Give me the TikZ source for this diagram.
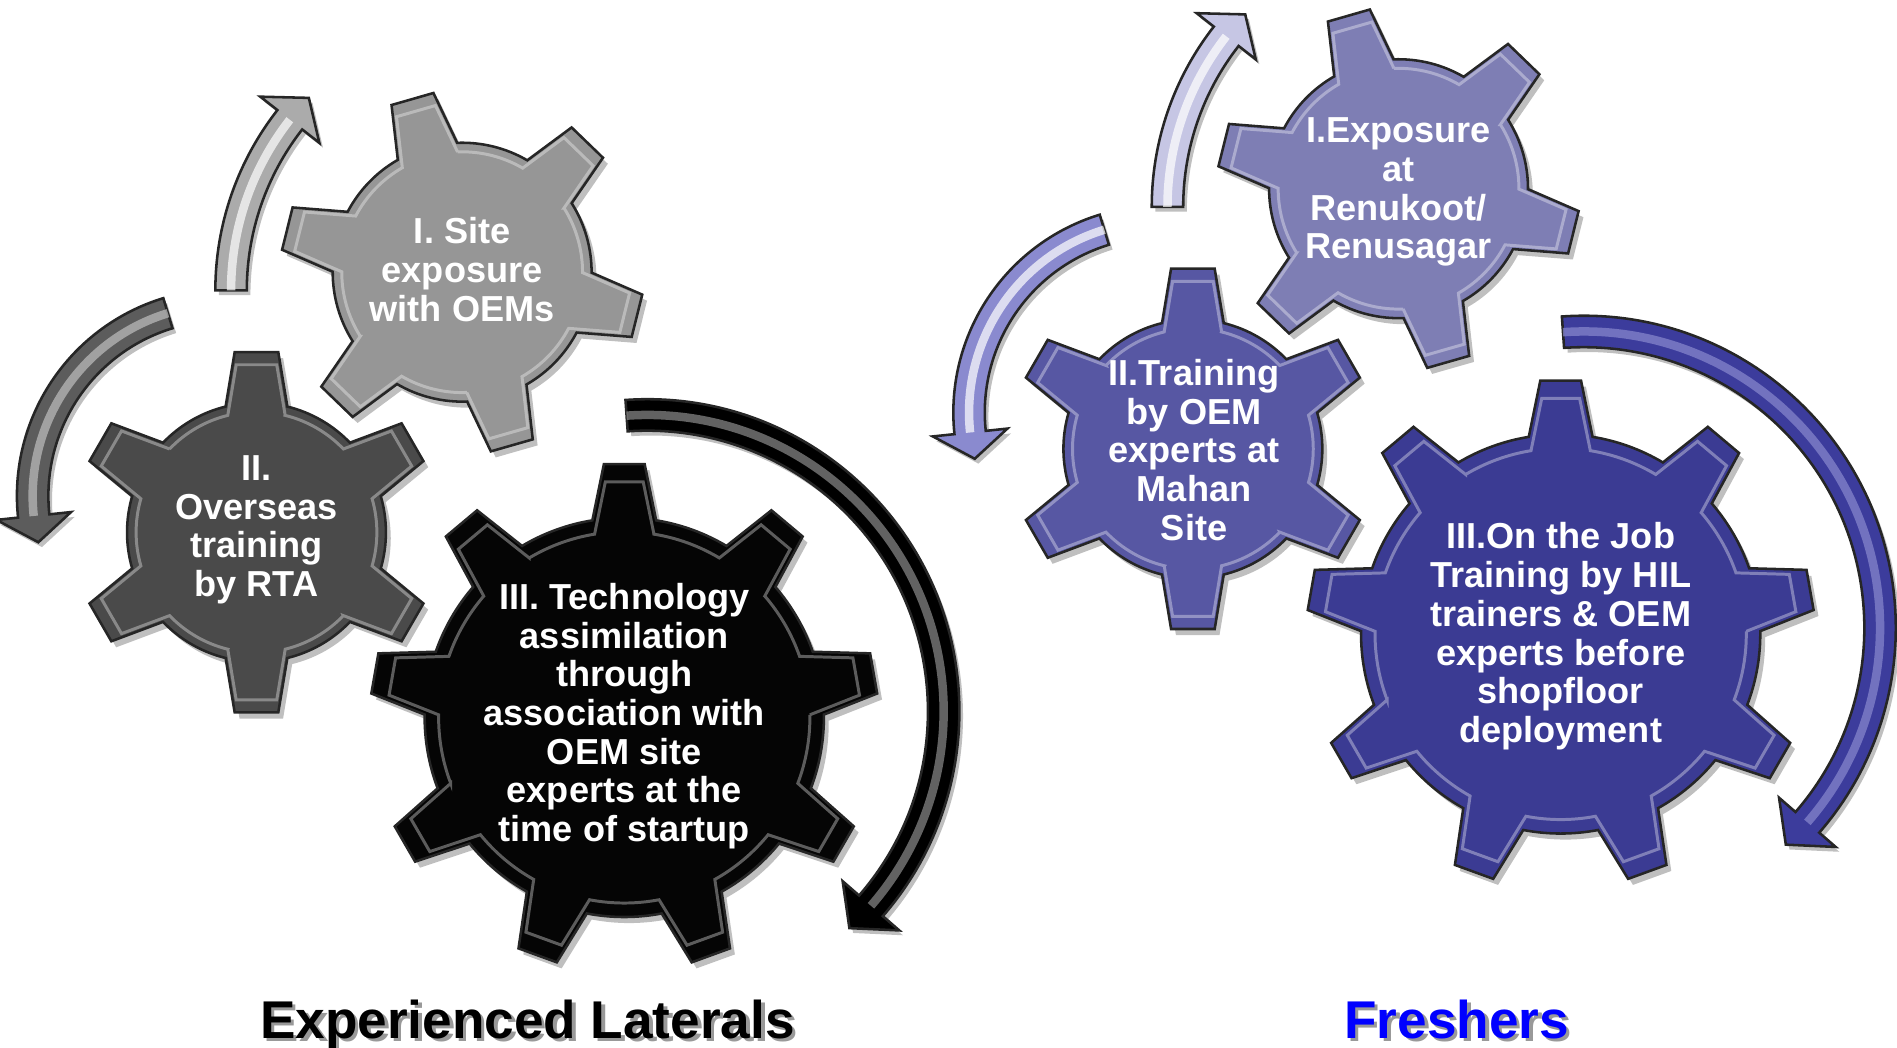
\documentclass[tikz,border=0pt]{standalone}
\usepackage{fontspec}
\setmainfont{Liberation Sans}

\definecolor{gearlight}{HTML}{969696}
\definecolor{geardark}{HTML}{4A4A4A}
\definecolor{gearblack}{HTML}{050505}
\definecolor{fresha}{HTML}{7E7EB4}
\definecolor{freshb}{HTML}{5757A3}
\definecolor{freshc}{HTML}{3B3B93}
\definecolor{arrowlight}{HTML}{ABABAB}
\definecolor{arrowdark}{HTML}{5C5C5C}
\definecolor{arrowfa}{HTML}{C6C6E4}
\definecolor{arrowfb}{HTML}{8A8ACF}
\definecolor{arrowfc}{HTML}{3C3C9C}

\tikzset{
  gearlabel/.style={text=white, font=\bfseries\fontsize{8.5}{9.1}\selectfont, align=center},
  grouplabel/.style={font=\bfseries\fontsize{12.5}{15}\selectfont, anchor=base},
}

% outline of a gear: teeth, rotation, body radius, tip radius
\newcommand{\gearpath}[4]{%
  (#2-0.46*180/#1:#3)
  \foreach \k [evaluate=\k as \a using #2+(\k-1)*360/#1] in {1,...,#1} {
    -- (\a-0.46*180/#1:#3) -- (\a-0.23*180/#1:#4) -- (\a+0.23*180/#1:#4) -- (\a+0.46*180/#1:#3)
    arc[start angle=\a+0.46*180/#1, end angle=\a+360/#1-0.46*180/#1, radius=#3]
  } -- cycle}

% x, y, teeth, rotation, body radius, tip radius, colour
\newcommand{\gear}[7]{%
  \begin{scope}[shift={(#1,#2)}]
    \fill[black, opacity=.25, shift={(4,-5)}] \gearpath{#3}{#4}{#5}{#6};
    \filldraw[fill=#7, draw=black!85, line width=.6pt] \gearpath{#3}{#4}{#5}{#6};
    \draw[white, opacity=.35, line width=.7pt, scale=.93] \gearpath{#3}{#4}{#5}{#6};
  \end{scope}}

% outline of a bent arrow: radius, tail angle, head angle, tip angle
\newcommand{\arrowpath}[4]{%
  (#2:#1+13) arc[start angle=#2, end angle=#3, radius=#1+13]
  -- (#3:#1+31) -- (#4:#1) -- (#3:#1-31) -- (#3:#1-13)
  arc[start angle=#3, end angle=#2, radius=#1-13] -- cycle}

% x, y (centre), radius, tail angle, head angle, tip angle, fill, shine
\newcommand{\bentarrow}[8]{%
  \begin{scope}[shift={(#1,#2)}]
    \fill[black, opacity=.25, shift={(3,-4)}] \arrowpath{#3}{#4}{#5}{#6};
    \filldraw[fill=#7, draw=black!85, line width=.6pt] \arrowpath{#3}{#4}{#5}{#6};
    \draw[#8, line width=2pt, opacity=.7] (#4:#3) arc[start angle=#4, end angle=#5, radius=#3];
  \end{scope}}

\begin{document}
\begin{tikzpicture}[x=0.1mm, y=0.1mm]
    \useasboundingbox (0,0) rectangle (1568,866);

    % experienced laterals
    \bentarrow{420}{626}{229}{180}{142}{136}{arrowlight}{white}
    \bentarrow{185}{456}{158}{107}{186}{194}{arrowdark}{black!25}
    \bentarrow{535}{278}{245}{94}{-41}{-47}{black}{black!45}
    \gear{382}{641}{6}{106}{107}{150}{gearlight}
    \gear{212}{426}{6}{90}{107}{150}{geardark}
    \gear{516}{273}{9}{90}{165}{210}{gearblack}
    \node[gearlabel] (expI) at (382,643) {I. Site\\exposure\\with OEMs};
    \node[gearlabel] (expII) at (212,428) {II.\\Overseas\\training\\by RTA};
    \node[gearlabel] (expIII) at (516,274) {III. Technology\\assimilation\\through\\association with\\OEM site\\experts at the\\time of startup};

    % freshers
    \bentarrow{1194}{695}{229}{180}{142}{136}{arrowfa}{white}
    \bentarrow{959}{525}{158}{107}{186}{194}{arrowfb}{white}
    \bentarrow{1309}{347}{245}{94}{-41}{-47}{arrowfc}{arrowfb}
    \gear{1156}{710}{6}{106}{107}{150}{fresha}
    \gear{986}{495}{6}{90}{107}{150}{freshb}
    \gear{1290}{342}{9}{90}{165}{210}{freshc}
    \node[gearlabel] (frI) at (1156,707) {I.Exposure\\at\\Renukoot/\\Renusagar};
    \node[gearlabel] (frII) at (987,494) {II.Training\\by OEM\\experts at\\Mahan\\Site};
    \node[gearlabel] (frIII) at (1290,340) {III.On the Job\\Training by HIL\\trainers \& OEM\\experts before\\shopfloor\\deployment};

    % group titles
    \node[grouplabel, text=black!40] (explatshade) at (439,5) {Experienced Laterals};
    \node[grouplabel] (explat) at (436,8) {Experienced Laterals};
    \node[grouplabel, text=black!40] (freshshade) at (1207,5) {Freshers};
    \node[grouplabel, text=blue] (fresh) at (1204,8) {Freshers};
\end{tikzpicture}
\end{document}
